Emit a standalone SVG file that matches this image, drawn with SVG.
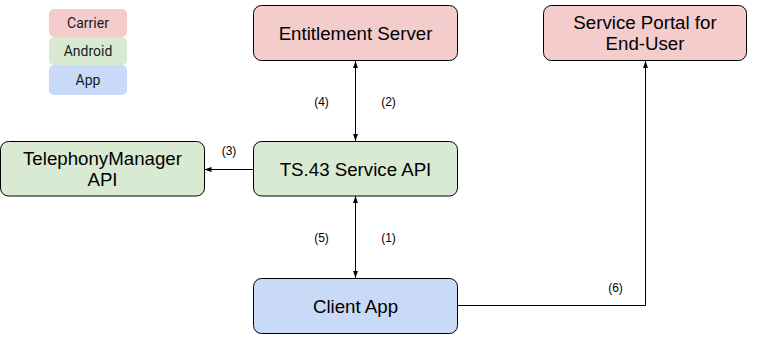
<svg xmlns="http://www.w3.org/2000/svg" width="758" height="350" viewBox="0 0 758 350">
<style>
.node{stroke:#000;stroke-width:1}
.carrier{fill:#f4cccc}
.android{fill:#d9ead3}
.app{fill:#c9daf8}
.t{font-family:"Liberation Sans",Arial,sans-serif;font-size:18.7px;fill:#000;text-anchor:middle}
.lbl{font-family:"Liberation Sans",Arial,sans-serif;font-size:12px;fill:#000;text-anchor:middle}
.leg{font-family:Roboto,"Liberation Sans",sans-serif;font-size:14px;fill:#1a1a1a;text-anchor:middle}
.c{stroke:#000;stroke-width:1;fill:none}
</style>
<defs>
<marker id="ah" viewBox="0 0 10 10" refX="10" refY="5" markerWidth="7" markerHeight="7" orient="auto-start-reverse" markerUnits="userSpaceOnUse">
<path d="M0,1.5 L10,5 L0,8.5 z" fill="#000"/>
</marker>
</defs>
<g id="legend">
<rect x="49" y="9" width="78" height="28" rx="5" class="carrier"/>
<text x="88" y="28" class="leg">Carrier</text>
<rect x="49" y="37" width="78" height="28" rx="5" class="android"/>
<text x="88" y="56" class="leg">Android</text>
<rect x="49" y="65" width="78" height="30" rx="5" class="app"/>
<text x="88" y="85" class="leg">App</text>
</g>
<g id="connectors">
<line x1="355.5" y1="61" x2="355.5" y2="141" class="c" marker-start="url(#ah)" marker-end="url(#ah)"/>
<line x1="355.5" y1="196" x2="355.5" y2="278" class="c" marker-start="url(#ah)" marker-end="url(#ah)"/>
<line x1="253.5" y1="169.5" x2="204.5" y2="169.5" class="c" marker-end="url(#ah)"/>
<polyline points="458,305.5 645.5,305.5 645.5,61" class="c" marker-end="url(#ah)"/>
<text x="321.5" y="106" class="lbl">(4)</text>
<text x="388.5" y="106" class="lbl">(2)</text>
<text x="321.5" y="242" class="lbl">(5)</text>
<text x="388.5" y="242" class="lbl">(1)</text>
<text x="229" y="155" class="lbl">(3)</text>
<text x="615.5" y="292" class="lbl">(6)</text>
</g>
<g id="entitlement-server">
<rect x="253.5" y="5.5" width="204" height="55" rx="8" class="node carrier"/>
<text x="355.5" y="39.5" class="t">Entitlement Server</text>
</g>
<g id="service-portal">
<rect x="543.5" y="5.5" width="203" height="55" rx="8" class="node carrier"/>
<text x="645" y="29" class="t">Service Portal for</text>
<text x="645" y="50" class="t">End-User</text>
</g>
<g id="ts43-service-api">
<rect x="253.5" y="141.5" width="204" height="54.5" rx="8" class="node android"/>
<text x="355.5" y="175.5" class="t">TS.43 Service API</text>
</g>
<g id="telephony-manager">
<rect x="0.5" y="141.5" width="204" height="54.5" rx="8" class="node android"/>
<text x="102.5" y="165" class="t">TelephonyManager</text>
<text x="102.5" y="186" class="t">API</text>
</g>
<g id="client-app">
<rect x="253.5" y="278.5" width="204" height="55" rx="8" class="node app"/>
<text x="355.5" y="312.5" class="t">Client App</text>
</g>
</svg>
